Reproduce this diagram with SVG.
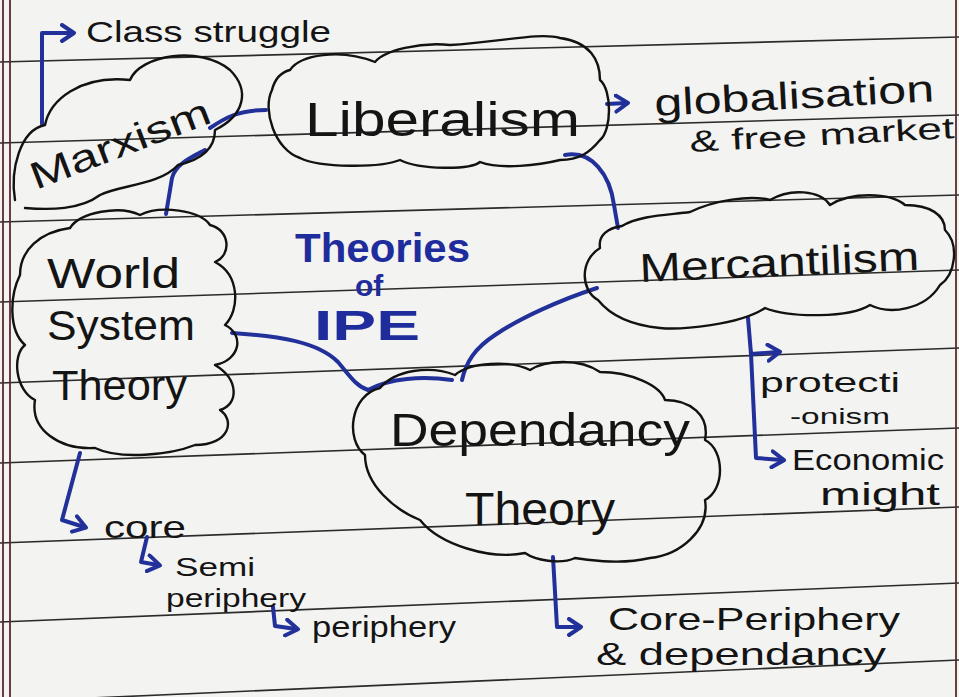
<svg xmlns="http://www.w3.org/2000/svg" width="959" height="697" viewBox="0 0 959 697">
<defs>
<marker id="chev" viewBox="0 0 10 10" refX="6" refY="5" markerWidth="5" markerHeight="5" orient="auto" markerUnits="strokeWidth">
<path d="M1,1 L7,5 L1,9" fill="none" stroke="#22309a" stroke-width="2" stroke-linejoin="round" stroke-linecap="round"/>
</marker>
<style>
.rule{stroke:#2b2b2b;stroke-width:1.6;fill:none}
.margin{stroke:#5a2a2a;stroke-width:1.8;fill:none}
.cloud{fill:none;stroke:#121212;stroke-width:2.4;stroke-linejoin:round;stroke-linecap:round}
.conn{fill:none;stroke:#22309a;stroke-width:4;stroke-linecap:round;stroke-linejoin:round}
.arr{fill:none;stroke:#22309a;stroke-width:4;stroke-linecap:round;stroke-linejoin:round;marker-end:url(#chev)}
.t{font-family:"Liberation Sans","DejaVu Sans",sans-serif;fill:#141414}
.blue{font-family:"Liberation Sans","DejaVu Sans",sans-serif;fill:#1f2c9c;font-weight:bold}
</style>
</defs>
<rect width="959" height="697" fill="#f3f3f1"/>
<g id="paper">
<path class="rule" d="M0,62 L959,37"/>
<path class="rule" d="M0,143 L959,115"/>
<path class="rule" d="M0,222 L959,195"/>
<path class="rule" d="M0,302 L959,270"/>
<path class="rule" d="M0,383 L959,348"/>
<path class="rule" d="M0,463 L959,428"/>
<path class="rule" d="M0,543 L959,507"/>
<path class="rule" d="M0,622 L959,583"/>
<path class="rule" d="M0,702 L959,660"/>
<path class="margin" d="M3,0 L3,697"/>
<path class="margin" d="M10,0 L10,697"/>
<path class="margin" d="M956,0 L956,697"/>
</g>
<g id="connectors">
<path class="conn" d="M210,128 C225,118 238,110 266,110"/>
<path class="conn" d="M205,150 C190,158 176,164 172,178 L166,214"/>
<path class="conn" d="M565,155 C592,150 610,175 614,205 L618,228"/>
<path class="conn" d="M597,288 C560,300 520,318 495,335 C475,348 466,362 462,380"/>
<path class="conn" d="M232,333 C280,336 318,342 338,362 C350,376 356,386 368,390 C390,378 422,376 452,380"/>
<path class="arr" d="M42,124 L42,33 L72,33"/>
<path class="arr" d="M607,104 L626,103"/>
<path class="arr" d="M748,318 L751,354 L778,352"/>
<path class="arr" d="M751,354 L756,458 L782,460"/>
<path class="arr" d="M80,453 L62,520 L84,527"/>
<path class="arr" d="M147,537 L141,562 L158,565"/>
<path class="arr" d="M273,607 L275,626 L296,629"/>
<path class="arr" d="M553,557 L557,627 L579,627"/>
</g>
<g id="title">
<text class="blue" x="295" y="262" font-size="40" textLength="175" lengthAdjust="spacingAndGlyphs">Theories</text>
<text class="blue" x="355" y="296" font-size="30">of</text>
<text class="blue" x="314" y="340" font-size="42" textLength="106" lengthAdjust="spacingAndGlyphs">IPE</text>
</g>
<g id="marxism">
<path class="cloud" d="M15,200 C10,170 20,130 45,125 C50,100 80,75 130,80 C140,55 200,45 230,70 C250,90 245,115 215,130 C215,150 200,160 178,165 C160,185 120,185 100,195 C80,210 50,210 25,208"/>
<text class="t" transform="translate(36,190) rotate(-21)" font-size="38" textLength="190" lengthAdjust="spacingAndGlyphs">Marxism</text>
</g>
<g id="class-struggle">
<text class="t" x="86" y="42" font-size="30" textLength="245" lengthAdjust="spacingAndGlyphs">Class struggle</text>
</g>
<g id="liberalism">
<path class="cloud" d="M290,70 C300,55 340,48 375,62 C385,50 420,42 450,45 C500,42 540,32 560,38 C590,42 600,60 600,80 C612,90 612,130 600,140 C590,152 580,160 560,160 C540,165 500,170 480,162 C470,170 420,170 400,160 C380,168 320,168 300,158 C275,150 262,110 272,90 C275,78 282,72 290,70 Z"/>
<text class="t" x="305" y="136" font-size="48" textLength="275" lengthAdjust="spacingAndGlyphs">Liberalism</text>
</g>
<g id="globalisation">
<text class="t" transform="translate(655,116) rotate(-3)" font-size="38" textLength="280" lengthAdjust="spacingAndGlyphs">globalisation</text>
<text class="t" transform="translate(690,152) rotate(-3)" font-size="30" textLength="265" lengthAdjust="spacingAndGlyphs">&amp; free market</text>
</g>
<g id="mercantilism">
<path class="cloud" d="M598,300 C580,290 580,260 600,248 C598,235 608,228 622,226 C640,215 670,215 690,212 C715,200 750,195 770,200 C790,188 820,190 830,205 C850,192 890,192 905,205 C930,205 945,215 945,230 C960,245 955,275 940,285 C925,310 890,315 870,305 C850,318 790,318 765,308 C740,325 680,330 660,328 C630,325 610,315 598,300 Z"/>
<text class="t" transform="translate(640,282) rotate(-2.5)" font-size="40" textLength="280" lengthAdjust="spacingAndGlyphs">Mercantilism</text>
</g>
<g id="protectionism">
<text class="t" x="760" y="392" font-size="28" textLength="140" lengthAdjust="spacingAndGlyphs">protecti</text>
<text class="t" x="790" y="424" font-size="22" textLength="100" lengthAdjust="spacingAndGlyphs">-onism</text>
</g>
<g id="economic-might">
<text class="t" x="792" y="470" font-size="30" textLength="152" lengthAdjust="spacingAndGlyphs">Economic</text>
<text class="t" x="820" y="505" font-size="32" textLength="120" lengthAdjust="spacingAndGlyphs">might</text>
</g>
<g id="world-system-theory">
<path class="cloud" d="M20,275 C20,250 40,232 70,228 C80,212 120,205 140,215 C160,205 200,210 210,225 C230,230 232,255 215,262 C240,275 240,310 225,325 C245,335 240,360 215,365 C240,380 238,405 220,410 C235,420 230,445 195,445 C170,455 120,460 95,448 C60,450 30,430 35,400 C15,390 12,355 25,345 C8,330 10,295 20,275 Z"/>
<text class="t" x="47" y="288" font-size="42" textLength="133" lengthAdjust="spacingAndGlyphs">World</text>
<text class="t" x="47" y="340" font-size="42" textLength="148" lengthAdjust="spacingAndGlyphs">System</text>
<text class="t" x="52" y="400" font-size="42" textLength="135" lengthAdjust="spacingAndGlyphs">Theory</text>
</g>
<g id="core">
<text class="t" x="104" y="538" font-size="32" textLength="82" lengthAdjust="spacingAndGlyphs">core</text>
</g>
<g id="semi-periphery">
<text class="t" x="175" y="576" font-size="26" textLength="80" lengthAdjust="spacingAndGlyphs">Semi</text>
<text class="t" x="166" y="607" font-size="26" textLength="140" lengthAdjust="spacingAndGlyphs">periphery</text>
</g>
<g id="periphery">
<text class="t" x="312" y="637" font-size="30" textLength="144" lengthAdjust="spacingAndGlyphs">periphery</text>
</g>
<g id="dependancy-theory">
<path class="cloud" d="M365,455 C345,440 350,395 380,388 C395,370 430,365 455,375 C470,362 510,360 530,370 C545,360 580,358 600,372 C630,372 660,385 665,400 C690,400 710,415 705,440 C725,450 725,490 705,500 C710,530 680,555 650,558 C620,565 590,560 575,558 C560,565 535,560 525,553 C490,560 440,545 420,520 C395,510 365,485 365,455 Z"/>
<text class="t" x="390" y="446" font-size="46" textLength="300" lengthAdjust="spacingAndGlyphs">Dependancy</text>
<text class="t" x="465" y="525" font-size="46" textLength="150" lengthAdjust="spacingAndGlyphs">Theory</text>
</g>
<g id="core-periphery">
<text class="t" x="608" y="630" font-size="32" textLength="292" lengthAdjust="spacingAndGlyphs">Core-Periphery</text>
<text class="t" x="596" y="665" font-size="32" textLength="290" lengthAdjust="spacingAndGlyphs">&amp; dependancy</text>
</g>
</svg>
